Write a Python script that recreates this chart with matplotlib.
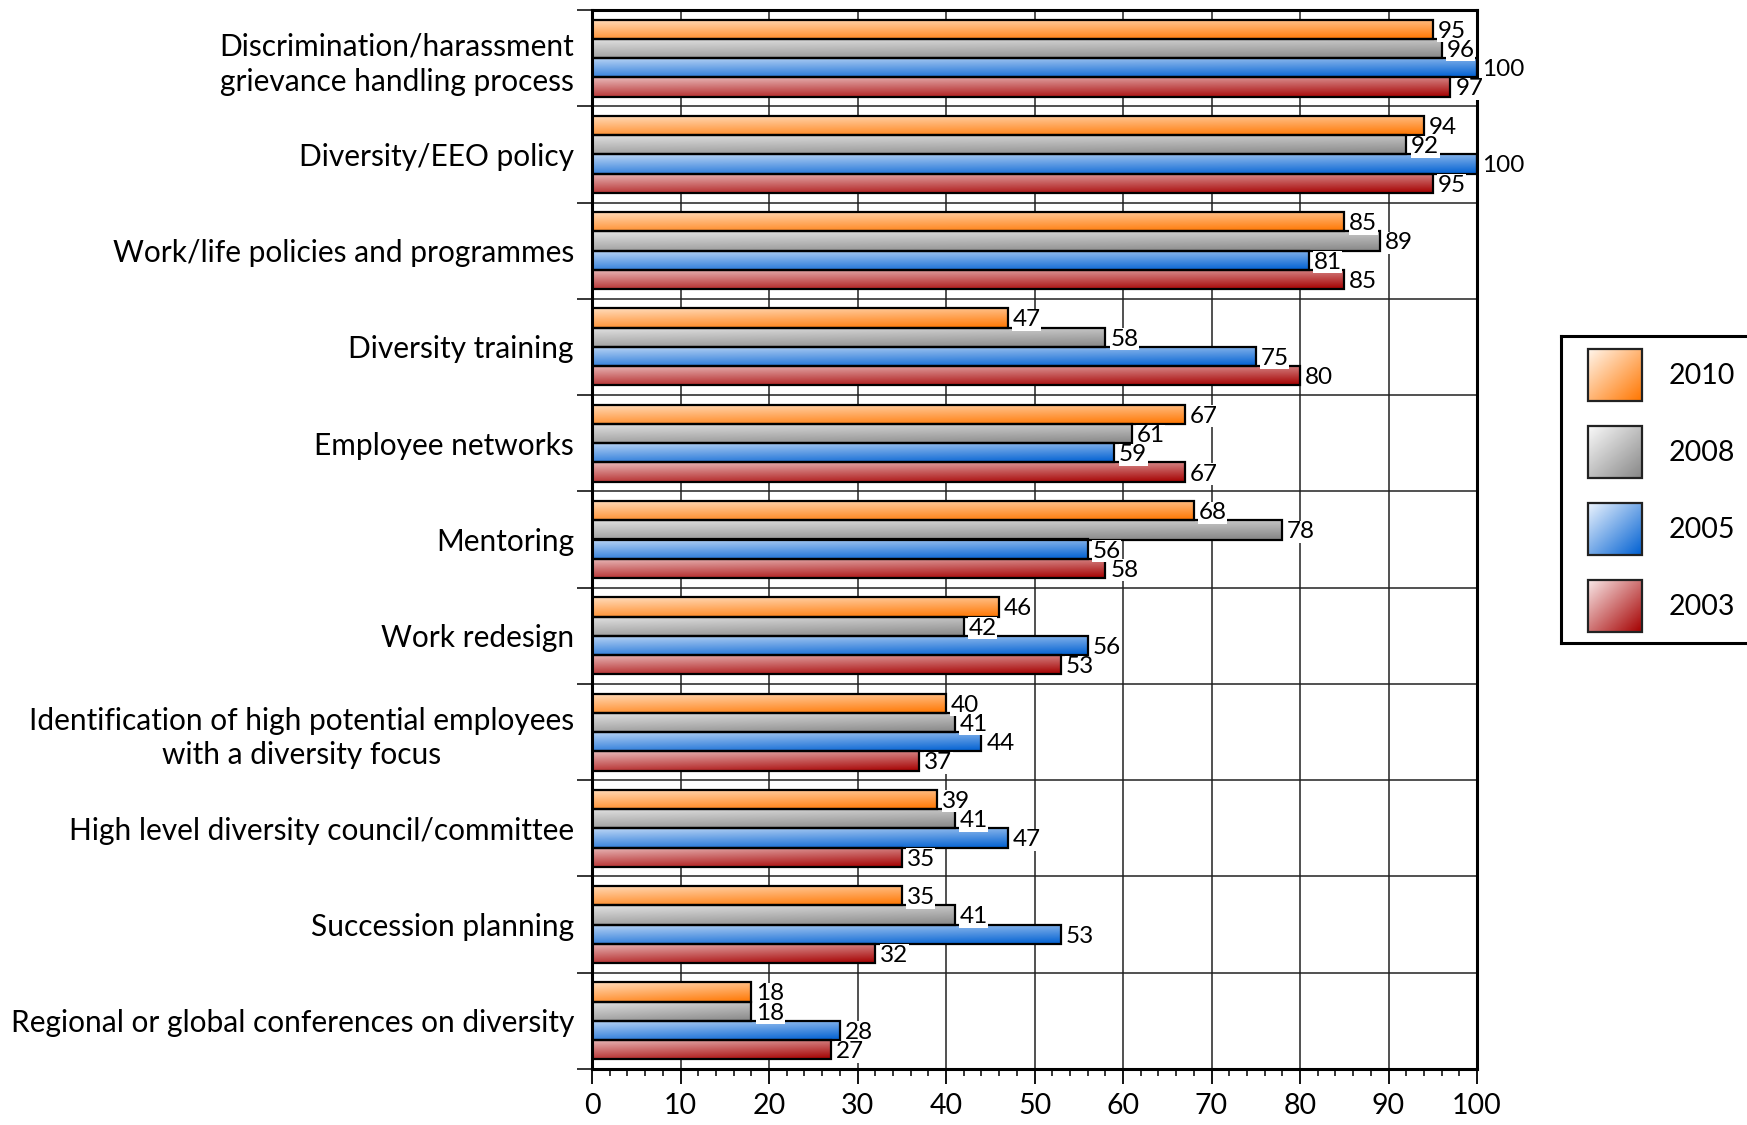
import numpy as np
import matplotlib.pyplot as plt
from matplotlib.ticker import MultipleLocator, FixedLocator

plt.rcParams['font.family'] = ['Lato', 'DejaVu Sans']

# survey data
categories = [
    'Discrimination/harassment\ngrievance handling process',
    'Diversity/EEO policy',
    'Work/life policies and programmes',
    'Diversity training',
    'Employee networks',
    'Mentoring',
    'Work redesign',
    'Identification of high potential employees\nwith a diversity focus',
    'High level diversity council/committee',
    'Succession planning',
    'Regional or global conferences on diversity',
]
years = ['2010', '2008', '2005', '2003']
v2010 = [95, 94, 85, 47, 67, 68, 46, 40, 39, 35, 18]
v2008 = [96, 92, 89, 58, 61, 78, 42, 41, 41, 41, 18]
v2005 = [100, 100, 81, 75, 59, 56, 56, 44, 47, 53, 28]
v2003 = [97, 95, 85, 80, 67, 58, 53, 37, 35, 32, 27]
series = [v2010, v2008, v2005, v2003]

# gradient end colours (light top-left -> dark bottom-right)
lights = [(255, 246, 236), (250, 250, 250), (236, 244, 254), (250, 234, 234)]
darks = [(255, 118, 0), (135, 135, 135), (0, 96, 210), (165, 0, 0)]


def gradient(c0, c1, wu, wv, t0, n=64):
    u = np.linspace(0, 1, n)[None, :]
    v = np.linspace(0, 1, n)[:, None]
    t = t0 + (1 - t0) * (wu * u + wv * v)
    c0 = np.array(c0) / 255.0
    c1 = np.array(c1) / 255.0
    return c0[None, None, :] * (1 - t[..., None]) + c1[None, None, :] * t[..., None]


W, H = 1747, 1125
fig = plt.figure(figsize=(W / 100, H / 100), dpi=100)
ax = fig.add_axes([592 / W, 1 - 1069 / H, (1477 - 592) / W, (1069 - 10) / H])

y = np.arange(len(categories))
bh = 0.2
for k, vals in enumerate(series):
    bars = ax.barh(y + (k - 1.5) * bh, vals, height=bh, facecolor='none',
                   edgecolor='black', linewidth=1.6, zorder=3)
    img = gradient(lights[k], darks[k], 0.3, 0.7, 0.2)
    for rect, v in zip(bars, vals):
        x0, y0 = rect.get_x(), rect.get_y()
        w, h = rect.get_width(), rect.get_height()
        ax.imshow(img, extent=(x0, x0 + w, y0 + h, y0), aspect='auto',
                  interpolation='bilinear', zorder=2)
        ax.text(x0 + w + 0.55, y0 + h / 2 + 0.02, str(v), fontsize=17.5,
                ha='left', va='center', zorder=5,
                bbox=dict(facecolor='white', edgecolor='none', pad=0.3))

ax.set_xlim(0, 100)
ax.set_ylim(len(categories) - 0.5, -0.5)

ax.xaxis.set_major_locator(MultipleLocator(10))
ax.xaxis.set_minor_locator(MultipleLocator(2))
ax.set_yticks(y, labels=categories)
ax.yaxis.set_minor_locator(FixedLocator(np.arange(-0.5, len(categories), 1)))
for t in ax.get_yticklabels():
    t.set_multialignment('center')
    t.set_linespacing(1.3)

ax.tick_params(axis='x', which='major', direction='out', length=11, width=1.3,
               labelsize=20.5, pad=6)
ax.tick_params(axis='x', which='minor', direction='out', length=5, width=1.1)
ax.tick_params(axis='y', which='major', length=0, labelsize=21.5, pad=13)
ax.tick_params(axis='y', which='minor', direction='out', length=11, width=1.1)

ax.set_axisbelow(True)
ax.xaxis.grid(True, which='major', color='#222222', linewidth=1.1)
ax.yaxis.grid(True, which='minor', color='#222222', linewidth=1.1)
for s in ax.spines.values():
    s.set_linewidth(2.2)

# legend, drawn by hand so the swatches keep the gradient
lx0, ly0, ly1 = 1561, 336, 643
lax = fig.add_axes([lx0 / W, 1 - ly1 / H, (W - lx0) / W, (ly1 - ly0) / H])
lax.set_xlim(0, W - lx0)
lax.set_ylim(ly1 - ly0, 0)
lax.set_xticks([])
lax.set_yticks([])
lax.spines['right'].set_visible(False)
for s in ['left', 'top', 'bottom']:
    lax.spines[s].set_linewidth(2.2)
for k, yr in enumerate(years):
    cy = 39 + 77 * k
    sq = gradient(lights[k], darks[k], 0.5, 0.5, 0.0)
    lax.imshow(sq, extent=(27, 81, cy + 26, cy - 26), aspect='auto',
               interpolation='bilinear', zorder=2)
    lax.add_patch(plt.Rectangle((27, cy - 26), 54, 52, facecolor='none',
                                edgecolor='#222222', linewidth=1.6, zorder=3))
    lax.text(108, cy + 1, yr, fontsize=20.5, ha='left', va='center')

fig.savefig('out.png', dpi=100)
